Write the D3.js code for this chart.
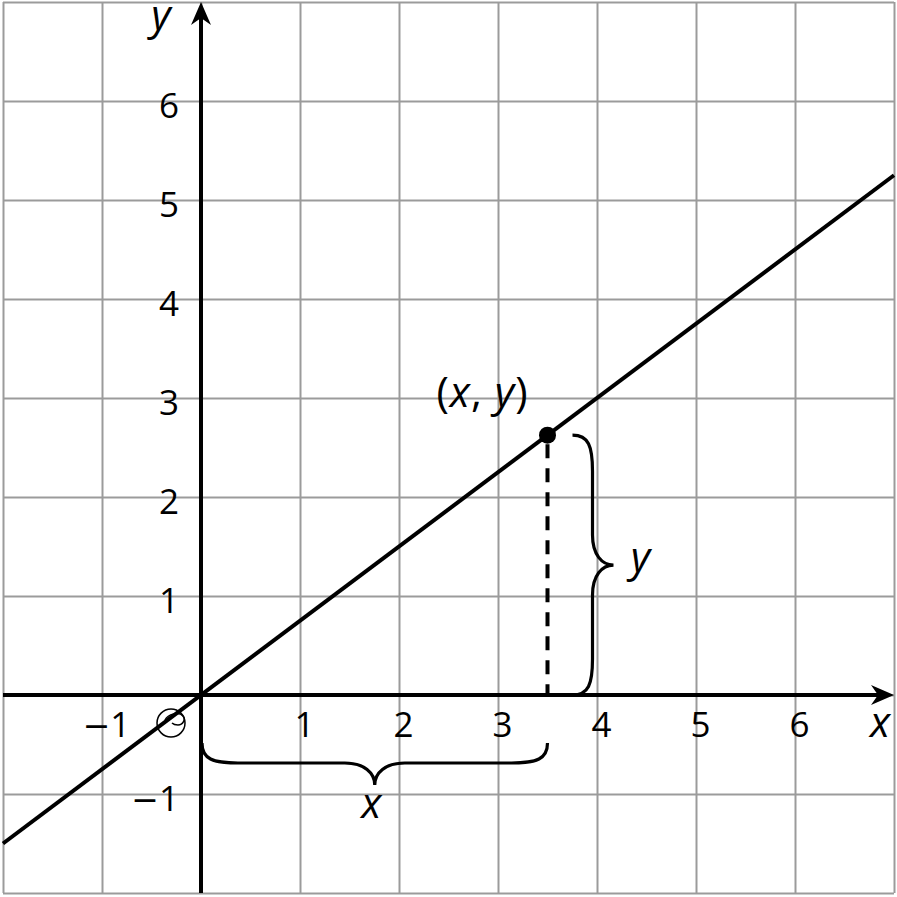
<!DOCTYPE html>
<html>
<head>
<meta charset="utf-8">
<script src="https://cdn.jsdelivr.net/npm/d3@7"></script>
<style>
  body { margin: 0; background: #fff; }
  text { font-family: "Open Sans", sans-serif; fill: #000; }
</style>
</head>
<body>
<div id="chart"></div>
<script>
const width = 897;
const height = 897;

// data
const gridValues = [-2, -1, 0, 1, 2, 3, 4, 5, 6, 7];
const xTickValues = [-1, 1, 2, 3, 4, 5, 6];
const yTickValues = [-1, 1, 2, 3, 4, 5, 6];
const linePoints = [[-2, -1.5], [7, 5.25]];
const pointXY = [3.5, 2.625];
const axisNames = ["x", "y"];

const x = d3.scaleLinear().domain([-2, 7]).range([3, 894]);
const y = d3.scaleLinear().domain([-2, 7]).range([893, 2]);

const svg = d3.select("#chart")
    .append("svg")
    .attr("width", width)
    .attr("height", height);

// grid
const gx = svg.append("g")
    .attr("transform", `translate(0,${y(-2)})`)
    .call(d3.axisBottom(x).tickValues(gridValues).tickSize(-(y(-2) - y(7))).tickFormat(""));
const gy = svg.append("g")
    .attr("transform", `translate(${x(-2)},0)`)
    .call(d3.axisLeft(y).tickValues(gridValues).tickSize(-(x(7) - x(-2))).tickFormat(""));
[gx, gy].forEach(g => {
    g.select(".domain").remove();
    g.selectAll(".tick line").attr("stroke", "#9b9b9b").attr("stroke-width", 2);
});

// axes lines + arrows
function arrow(tx, ty, angle) {
    svg.append("path")
        .attr("d", "M0,0 L-23,-10 L-16,0 L-23,10 Z")
        .attr("transform", `translate(${tx},${ty}) rotate(${angle})`)
        .attr("fill", "#000");
}
svg.append("line")
    .attr("x1", x(-2)).attr("x2", x(7) - 12)
    .attr("y1", y(0)).attr("y2", y(0))
    .attr("stroke", "#000").attr("stroke-width", 4);
svg.append("line")
    .attr("x1", x(0)).attr("x2", x(0))
    .attr("y1", y(-2)).attr("y2", y(7) + 12)
    .attr("stroke", "#000").attr("stroke-width", 4);
arrow(x(7), y(0), 0);
arrow(x(0), y(7), -90);

// tick labels
function tickText(g) {
    g.select(".domain").remove();
    g.attr("font-size", 35).attr("font-family", "'Open Sans', sans-serif");
    g.selectAll("text").attr("fill", "#000").each(function(d) {
        const t = d3.select(this).text("");
        if (d < 0) {
            t.append("tspan").attr("font-family", "'DejaVu Sans', sans-serif").attr("font-size", 33).text("\u2212");
            t.append("tspan").text(Math.abs(d));
        } else {
            t.text(d);
        }
    });
}

const xl = svg.append("g")
    .attr("transform", `translate(0,${y(0)})`)
    .call(d3.axisBottom(x).tickValues(xTickValues).tickSize(0));
tickText(xl);
xl.selectAll("text").attr("dy", null).attr("y", 42).attr("x", 4);

const yl = svg.append("g")
    .attr("transform", `translate(${x(0)},0)`)
    .call(d3.axisLeft(y).tickValues(yTickValues).tickSize(0).tickPadding(22));
tickText(yl);
yl.selectAll("text").attr("dy", null).attr("y", 16);

// origin mark
const om = svg.append("g")
    .attr("transform", `translate(${x(0) - 30},${y(0) + 28})`)
    .attr("fill", "none").attr("stroke", "#000").attr("stroke-width", 1.5);
om.append("circle").attr("r", 14);
om.append("path").attr("d", "M-6,-3 C-3,-9 8,-12 12,-7 C15,-4 12,2 7,2 C4,2 2,1 1,0");

// main line
svg.append("path")
    .datum(linePoints)
    .attr("d", d3.line().x(d => x(d[0])).y(d => y(d[1])))
    .attr("fill", "none").attr("stroke", "#000").attr("stroke-width", 4);

// dashed drop line
svg.append("line")
    .attr("x1", x(pointXY[0])).attr("x2", x(pointXY[0]))
    .attr("y1", y(pointXY[1]) + 9).attr("y2", y(0))
    .attr("stroke", "#000").attr("stroke-width", 4)
    .attr("stroke-dasharray", "14 10");

svg.append("circle")
    .attr("cx", x(pointXY[0])).attr("cy", y(pointXY[1]))
    .attr("r", 8.5).attr("fill", "#000");

// braces
function bracePath(p0, p1, n, d1, d2, r, r2) {
    const L = Math.hypot(p1[0] - p0[0], p1[1] - p0[1]);
    const t = [(p1[0] - p0[0]) / L, (p1[1] - p0[1]) / L];
    const P = (u, v) => `${p0[0] + u * t[0] + v * n[0]},${p0[1] + u * t[1] + v * n[1]}`;
    const m = L / 2;
    const dm = d1 + (d2 - d1) * 0.45;
    return `M${P(0, 0)}` +
        `C${P(0, d1 * 0.8)} ${P(r * 0.3, d1)} ${P(r, d1)}` +
        `L${P(m - r2, d1)}` +
        `C${P(m - r2 * 0.35, d1)} ${P(m, dm)} ${P(m, d2)}` +
        `C${P(m, dm)} ${P(m + r2 * 0.35, d1)} ${P(m + r2, d1)}` +
        `L${P(L - r, d1)}` +
        `C${P(L - r * 0.3, d1)} ${P(L, d1 * 0.8)} ${P(L, 0)}`;
}
svg.append("path")
    .attr("d", bracePath([x(0) + 1, y(0) + 48], [x(pointXY[0]), y(0) + 48], [0, 1], 20, 42, 36, 30))
    .attr("fill", "none").attr("stroke", "#000").attr("stroke-width", 3.2);
svg.append("path")
    .attr("d", bracePath([x(pointXY[0]) + 25, y(0)], [x(pointXY[0]) + 25, y(pointXY[1])], [1, 0], 20, 41, 36, 30))
    .attr("fill", "none").attr("stroke", "#000").attr("stroke-width", 3.2);

// variable labels
function varLabel(tx, ty, name) {
    svg.append("text")
        .attr("x", tx).attr("y", ty)
        .attr("text-anchor", "middle")
        .attr("font-size", 42).attr("font-style", "italic")
        .text(name);
}
varLabel(880, y(0) + 42, axisNames[0]);
varLabel(161, 30, axisNames[1]);
varLabel((x(0) + x(pointXY[0])) / 2 - 3, y(0) + 123, axisNames[0]);
varLabel(x(pointXY[0]) + 93, (y(0) + y(pointXY[1])) / 2 + 7, axisNames[1]);

const pl = svg.append("text")
    .attr("x", x(pointXY[0]) - 65).attr("y", y(pointXY[1]) - 28)
    .attr("text-anchor", "middle")
    .attr("font-size", 42)
    .attr("letter-spacing", 1);
pl.append("tspan").text("(");
pl.append("tspan").attr("font-style", "italic").text(axisNames[0]);
pl.append("tspan").text(", ");
pl.append("tspan").attr("font-style", "italic").text(axisNames[1]);
pl.append("tspan").text(")");
</script>
</body>
</html>
